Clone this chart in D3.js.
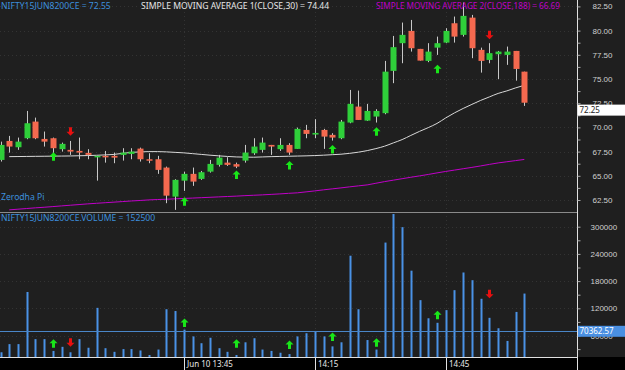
<!DOCTYPE html>
<html>
<head>
<meta charset="utf-8">
<script src="https://d3js.org/d3.v7.min.js"></script>
<style>
  html, body { margin: 0; padding: 0; background: #1f1f1f; }
  svg { display: block; font-family: "Noto Sans", "DejaVu Sans", sans-serif; }
</style>
</head>
<body>
<svg width="625" height="370"></svg>
<script>
// candle data (2 minute bars)
var opens  = [66.64,68.60,67.95,68.88,70.60,68.81,68.88,67.75,67.68,67.57,67.37,66.92,67.06,67.06,67.16,67.26,67.81,66.71,66.71,65.85,
              62.85,64.50,65.20,64.68,65.43,66.13,66.36,66.20,66.57,67.33,67.68,68.19,67.75,68.19,67.78,69.74,69.26,69.74,69.23,68.88,
              70.50,72.15,70.70,71.12,71.47,75.84,78.70,79.97,78.11,76.87,78.24,78.76,80.76,79.56,81.34,78.01,76.97,77.56,77.49,77.90,75.76];
var highs  = [68.53,69.12,68.95,71.70,71.01,69.57,68.95,68.43,68.60,68.95,67.75,67.06,67.57,67.40,67.85,67.85,67.91,67.33,67.06,65.95,
              64.65,65.43,65.85,65.50,66.64,67.16,66.92,66.36,68.19,68.88,68.95,68.19,68.88,68.37,69.98,70.26,70.85,69.85,69.40,70.77,
              73.87,73.80,72.43,71.88,76.87,79.45,80.83,81.10,78.11,78.70,79.38,80.25,81.45,82.90,81.62,78.24,78.70,77.90,78.35,77.90,75.76];
var lows   = [66.47,67.40,67.68,68.78,68.78,68.02,67.06,67.50,67.16,66.71,66.71,64.50,66.36,66.30,66.57,66.71,66.47,66.30,65.20,62.17,
              61.48,63.44,63.96,64.58,65.33,65.95,66.02,65.79,66.36,67.16,67.40,67.16,67.57,67.16,67.78,68.88,68.88,67.78,68.64,68.78,
              70.43,70.77,70.67,70.50,71.36,74.57,76.63,77.83,76.90,76.74,77.49,78.70,78.76,79.38,77.15,75.66,76.63,74.98,76.46,74.83,72.22];
var closes = [68.19,68.02,68.53,70.43,68.88,68.53,67.85,68.30,67.50,67.40,67.16,67.06,66.95,66.88,67.40,67.50,66.71,66.57,65.61,62.95,
              64.58,65.20,64.40,65.37,66.23,66.88,66.13,65.95,67.40,68.02,68.43,68.02,68.19,67.40,69.85,69.33,69.43,69.05,68.95,70.60,
              72.43,70.77,71.70,71.70,75.76,78.29,79.56,78.18,76.90,77.83,78.70,79.97,79.38,81.52,78.18,76.87,77.67,77.83,77.83,76.04,72.55];
var volumes = [23000,41000,41000,156000,52000,52000,26000,35000,23000,52000,33000,121000,32000,24000,30000,30000,27000,17000,29000,118000,
               114000,73000,58000,43000,55000,32000,24000,17000,45000,54000,29000,26000,22000,19000,58000,65000,70000,58000,36000,45000,
               236000,118000,50000,29000,265000,328000,299000,203000,138000,98000,88000,116000,160000,199000,182000,141000,99000,76000,48000,112000,152500];

// moving averages (index 1..60)
var sma30 = [null,66.98,66.99,67.00,67.01,67.02,67.03,67.04,67.05,67.07,67.09,67.12,67.16,67.21,67.32,67.42,67.47,67.50,67.50,67.47,
             67.42,67.37,67.29,67.21,67.13,67.06,67.00,66.95,66.93,66.92,66.95,66.98,67.00,67.02,67.04,67.06,67.09,67.13,67.18,67.23,
             67.32,67.44,67.60,67.81,68.06,68.40,68.74,69.17,69.59,69.98,70.41,70.98,71.50,71.96,72.38,72.79,73.15,73.51,73.77,74.08,74.35];
var sma188 = [null,61.48,61.55,61.62,61.69,61.75,61.82,61.89,61.96,62.03,62.10,62.16,62.22,62.28,62.34,62.40,62.45,62.51,62.55,62.58,
              62.62,62.66,62.70,62.74,62.78,62.82,62.86,62.90,62.95,62.99,63.03,63.08,63.13,63.19,63.24,63.34,63.44,63.55,63.65,63.75,
              63.86,63.96,64.06,64.23,64.40,64.55,64.70,64.85,64.99,65.14,65.30,65.45,65.59,65.73,65.87,66.02,66.18,66.33,66.45,66.57,66.69];

// buy / sell signals
var sigIdx   = [6, 8, 21, 27, 33, 38, 43, 50, 56];
var sigDir   = ["up","down","up","up","up","up","up","up","down"];
var sigPrice = [67.44, 69.15, 62.79, 65.54, 66.54, 68.19, 70.02, 76.46, 79.11];
var sigVol   = [33000, 35000, 79000, 33000, 30000, 48000, 35000, 96000, 142000];

var priceTicks = [62.5, 65, 67.5, 70, 72.5, 75, 77.5, 80, 82.5];
var volTicks = [60000, 120000, 180000, 240000, 300000];
var timeTicks = [21, 36, 51];
var timeLabels = ["Jun 10 13:45", "14:15", "14:45"];
var lastPrice = 72.25;
var avgVolume = 70362.57;

var svg = d3.select("svg");
var W = 625, H = 370, plotR = 577.5;

var x = d3.scaleLinear().domain([0, 66]).range([0.5, 576.7]);
var y = d3.scaleLinear().domain([62.5, 82.5]).range([200, 6.4]);
var yv = d3.scaleLinear().domain([0, 300000]).range([362.7, 226.7]);

// backgrounds
svg.append("rect").attr("width", W).attr("height", H).attr("fill", "#1f1f1f");
svg.append("rect").attr("x", 0).attr("y", 357).attr("width", W).attr("height", 13).attr("fill", "#000");

// grid
var grid = svg.append("g").attr("stroke", "#333").attr("stroke-dasharray", "1,3");
grid.selectAll(".gv").data(timeTicks).enter().append("line")
    .attr("x1", function(d) { return Math.round(x(d)) + 0.5; })
    .attr("x2", function(d) { return Math.round(x(d)) + 0.5; })
    .attr("y1", 0).attr("y2", 357);
grid.selectAll(".gh").data(priceTicks).enter().append("line")
    .attr("x1", 0).attr("x2", plotR)
    .attr("y1", function(d) { return Math.round(y(d)) + 0.5; })
    .attr("y2", function(d) { return Math.round(y(d)) + 0.5; });
grid.selectAll(".ghv").data(volTicks).enter().append("line")
    .attr("x1", 0).attr("x2", plotR)
    .attr("y1", function(d) { return Math.round(yv(d)) + 0.5; })
    .attr("y2", function(d) { return Math.round(yv(d)) + 0.5; });

// main pane clip
svg.append("clipPath").attr("id", "cp").append("rect").attr("x", 0).attr("y", 0).attr("width", plotR).attr("height", 211);
svg.append("clipPath").attr("id", "cv").append("rect").attr("x", 0).attr("y", 213).attr("width", plotR).attr("height", 144);

var main = svg.append("g").attr("clip-path", "url(#cp)");

// moving average lines
var line30 = d3.line().defined(function(d) { return d != null; })
    .x(function(d, i) { return x(i); }).y(function(d) { return y(d); }).curve(d3.curveMonotoneX);
main.append("path").datum(sma30).attr("d", line30)
    .attr("fill", "none").attr("stroke", "#d8d8d8").attr("stroke-width", 1);
main.append("path").datum(sma188).attr("d", line30)
    .attr("fill", "none").attr("stroke", "#c000c8").attr("stroke-width", 1);

// candles
var idx = d3.range(opens.length);
var candle = main.selectAll(".c").data(idx).enter().append("g");
candle.append("line")
    .attr("x1", function(i) { return Math.round(x(i)) + 0.5; })
    .attr("x2", function(i) { return Math.round(x(i)) + 0.5; })
    .attr("y1", function(i) { return y(highs[i]); })
    .attr("y2", function(i) { return y(lows[i]); })
    .attr("stroke", "#c8c8c8").attr("stroke-width", 1);
candle.append("rect")
    .attr("x", function(i) { return Math.round(x(i)) - 2.5; })
    .attr("width", 6)
    .attr("y", function(i) { return y(Math.max(opens[i], closes[i])); })
    .attr("height", function(i) { return Math.max(1.5, Math.abs(y(opens[i]) - y(closes[i]))); })
    .attr("fill", function(i) { return closes[i] >= opens[i] ? "#2fcf3a" : "#f4694f"; });

// arrows
function arrowPath(cx, yy, dir) {
    // yy is the tip of the arrow
    var s = dir == "up" ? 1 : -1;
    return "M" + cx + "," + yy +
        "L" + (cx + 4) + "," + (yy + s * 4) +
        "L" + (cx + 1.5) + "," + (yy + s * 4) +
        "L" + (cx + 1.5) + "," + (yy + s * 8.5) +
        "L" + (cx - 1.5) + "," + (yy + s * 8.5) +
        "L" + (cx - 1.5) + "," + (yy + s * 4) +
        "L" + (cx - 4) + "," + (yy + s * 4) + "Z";
}
function arrowColor(k) { return sigDir[k] == "up" ? "#19e619" : "#e81010"; }

main.selectAll(".am").data(d3.range(sigIdx.length)).enter().append("path")
    .attr("d", function(k) { return arrowPath(Math.round(x(sigIdx[k])) + 0.5, y(sigPrice[k]), sigDir[k]); })
    .attr("fill", arrowColor);

// pane separator
svg.append("line").attr("x1", 0).attr("x2", plotR).attr("y1", 212.5).attr("y2", 212.5)
    .attr("stroke", "#8a8a8a").attr("stroke-width", 1);

// volume
var vol = svg.append("g").attr("clip-path", "url(#cv)");
vol.selectAll(".v").data(idx).enter().append("rect")
    .attr("x", function(i) { return Math.round(x(i)) - 0.5; })
    .attr("width", 2)
    .attr("y", function(i) { return yv(volumes[i]); })
    .attr("height", function(i) { return yv(0) - yv(volumes[i]); })
    .attr("fill", "#4a92e6");
vol.append("line").attr("x1", 0).attr("x2", plotR)
    .attr("y1", Math.round(yv(avgVolume)) + 0.5).attr("y2", Math.round(yv(avgVolume)) + 0.5)
    .attr("stroke", "#4a86c8").attr("stroke-width", 1);
vol.selectAll(".av").data(d3.range(sigIdx.length)).enter().append("path")
    .attr("d", function(k) {
        var yy = yv(sigVol[k]);
        return sigDir[k] == "up" ? arrowPath(Math.round(x(sigIdx[k])) + 0.5, yy - 8.5, "up")
                                 : arrowPath(Math.round(x(sigIdx[k])) + 0.5, yy, "down");
    })
    .attr("fill", arrowColor);

// bottom border of volume pane and right axis line
svg.append("line").attr("x1", 0).attr("x2", plotR).attr("y1", 357.5).attr("y2", 357.5).attr("stroke", "#e0e0e0");
svg.append("line").attr("x1", plotR).attr("x2", plotR).attr("y1", 0).attr("y2", 370).attr("stroke", "#e0e0e0");

// price axis
var pAxis = svg.append("g").attr("transform", "translate(" + plotR + ",0)")
    .call(d3.axisRight(y).tickValues(d3.range(62.5, 83.75, 1.25)).tickSize(3)
        .tickFormat(function(d) { return priceTicks.indexOf(d) >= 0 ? d3.format(".2f")(d) : ""; }));
pAxis.select(".domain").remove();
pAxis.selectAll("line").attr("stroke", "#aaa");
pAxis.selectAll("text").attr("fill", "#cfcfcf").attr("font-size", 8).attr("x", 15).attr("font-family", "inherit");

// volume axis
var vAxis = svg.append("g").attr("transform", "translate(" + plotR + ",0)")
    .call(d3.axisRight(yv).tickValues(d3.range(30000, 330000, 30000)).tickSize(3)
        .tickFormat(function(d) { return volTicks.indexOf(d) >= 0 ? d : ""; }));
vAxis.select(".domain").remove();
vAxis.selectAll("line").attr("stroke", "#aaa");
vAxis.selectAll("text").attr("fill", "#cfcfcf").attr("font-size", 8).attr("x", 13).attr("font-family", "inherit");

// last price box
svg.append("rect").attr("x", plotR + 0.5).attr("y", y(lastPrice) - 1).attr("width", 48).attr("height", 11).attr("fill", "#fff");
svg.append("text").attr("x", plotR + 2).attr("y", y(lastPrice) + 7.5).attr("font-size", 8).attr("fill", "#222").text(d3.format(".2f")(lastPrice));

// average volume box
svg.append("rect").attr("x", plotR + 0.5).attr("y", yv(avgVolume) - 5).attr("width", 48).attr("height", 11).attr("fill", "#4a90e2");
svg.append("text").attr("x", plotR + 2).attr("y", yv(avgVolume) + 3.5).attr("font-size", 8).attr("fill", "#fff").text(avgVolume);

// time axis
var tg = svg.append("g").selectAll("g").data(timeTicks).enter().append("g");
tg.append("line")
    .attr("x1", function(d) { return Math.round(x(d)) + 0.5; })
    .attr("x2", function(d) { return Math.round(x(d)) + 0.5; })
    .attr("y1", 357).attr("y2", 370).attr("stroke", "#e0e0e0");
tg.append("text")
    .attr("x", function(d) { return Math.round(x(d)) + 3; })
    .attr("y", 367).attr("font-size", 8).attr("fill", "#e8e8e8")
    .text(function(d, i) { return timeLabels[i]; });

// titles
svg.append("text").attr("x", 1).attr("y", 9).attr("font-size", 8.6).attr("fill", "#3d8fdd").text("NIFTY15JUN8200CE = " + closes[closes.length - 1]);
svg.append("text").attr("x", 141).attr("y", 9).attr("font-size", 8.6).attr("fill", "#e6e6e6").text("SIMPLE MOVING AVERAGE 1(CLOSE,30) = 74.44");
svg.append("text").attr("x", 376).attr("y", 9).attr("font-size", 8.2).attr("fill", "#c000c8").text("SIMPLE MOVING AVERAGE 2(CLOSE,188) = 66.69");
svg.append("text").attr("x", 1).attr("y", 200).attr("font-size", 8.6).attr("fill", "#3d8fdd").text("Zerodha Pi");
svg.append("text").attr("x", 1).attr("y", 221).attr("font-size", 8.6).attr("fill", "#3d8fdd").text("NIFTY15JUN8200CE.VOLUME = " + volumes[volumes.length - 1]);
</script>
</body>
</html>
